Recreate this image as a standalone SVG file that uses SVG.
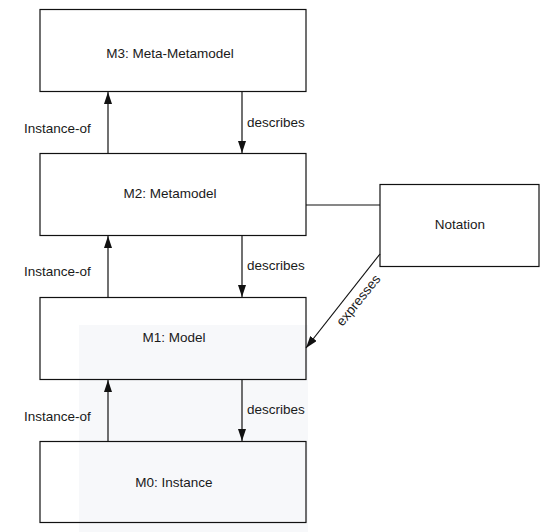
<svg xmlns="http://www.w3.org/2000/svg" width="548" height="532" viewBox="0 0 548 532">
<style>
.box{fill:none;stroke:#111;stroke-width:1.2}
.lbl{font-family:"Liberation Sans",Arial,sans-serif;font-size:13.5px;fill:#1a1a1a}
.c{text-anchor:middle}
.ln{stroke:#111;stroke-width:1.2;fill:none}
</style>
<defs>
<marker id="ah" viewBox="0 0 12 8" refX="12" refY="4" markerWidth="12" markerHeight="8" markerUnits="userSpaceOnUse" orient="auto">
<path d="M0,0 L12,4 L0,8 Z" fill="#111"/>
</marker>
</defs>
<rect width="548" height="532" fill="#fff"/>
<rect x="79" y="325" width="229" height="207" fill="#f7f8fa"/>
<g id="m3"><rect class="box" x="40" y="9.5" width="266" height="82"/><text class="lbl c" x="170" y="58">M3: Meta-Metamodel</text></g>
<g id="m2"><rect class="box" x="40" y="153.5" width="266" height="82"/><text class="lbl c" x="170" y="198">M2: Metamodel</text></g>
<g id="m1"><rect class="box" x="40" y="297.5" width="266" height="82"/><text class="lbl c" x="174" y="342">M1: Model</text></g>
<g id="m0"><rect class="box" x="40" y="441.5" width="266" height="81"/><text class="lbl c" x="174" y="486.5">M0: Instance</text></g>
<g id="notation"><rect class="box" x="380" y="184.5" width="159" height="82"/><text class="lbl c" x="460" y="229">Notation</text></g>
<g id="connectors">
<line class="ln" x1="108" y1="153.5" x2="108" y2="92" marker-end="url(#ah)"/>
<line class="ln" x1="242" y1="91.5" x2="242" y2="153" marker-end="url(#ah)"/>
<line class="ln" x1="108" y1="297.5" x2="108" y2="236" marker-end="url(#ah)"/>
<line class="ln" x1="242" y1="235.5" x2="242" y2="297" marker-end="url(#ah)"/>
<line class="ln" x1="108" y1="441.5" x2="108" y2="380" marker-end="url(#ah)"/>
<line class="ln" x1="242" y1="379.5" x2="242" y2="441" marker-end="url(#ah)"/>
<line class="ln" x1="306" y1="205" x2="380" y2="205"/>
<line class="ln" x1="380" y1="254" x2="306" y2="348" marker-end="url(#ah)"/>
<text class="lbl" x="24" y="133">Instance-of</text>
<text class="lbl" x="247" y="127">describes</text>
<text class="lbl" x="24" y="276">Instance-of</text>
<text class="lbl" x="247" y="270">describes</text>
<text class="lbl" x="24" y="421">Instance-of</text>
<text class="lbl" x="247" y="414">describes</text>
<text class="lbl c" transform="translate(358,300) rotate(-51)" y="5">expresses</text>
</g>
</svg>
